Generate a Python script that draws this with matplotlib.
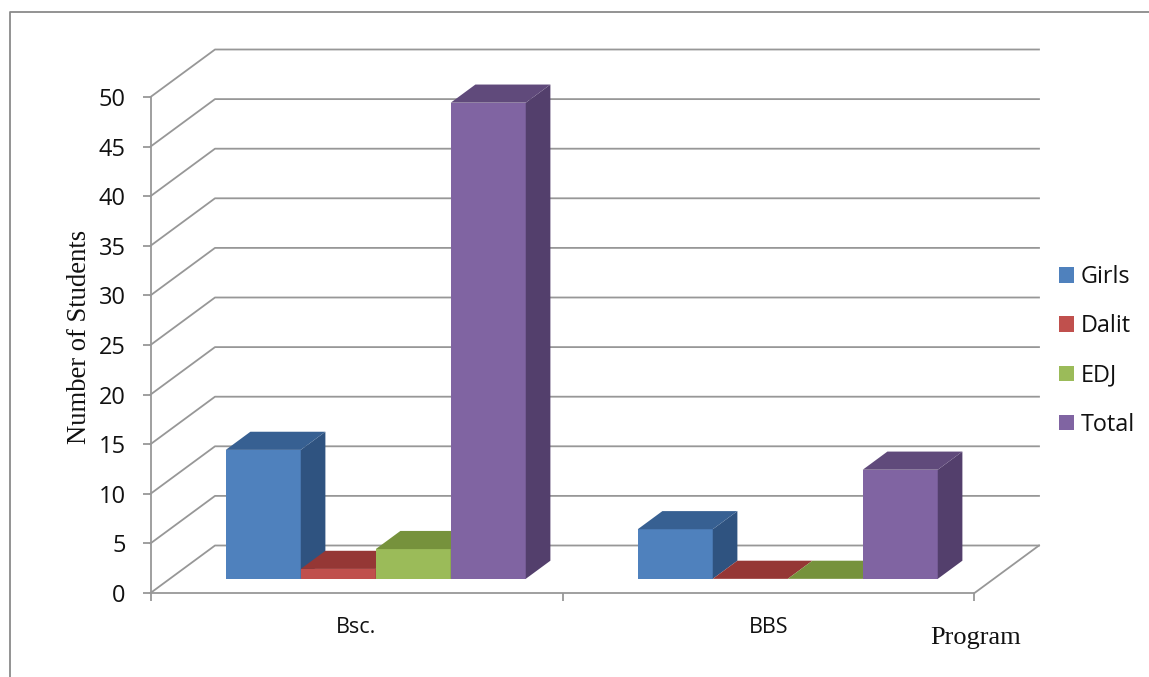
import numpy as np
import matplotlib
matplotlib.use('Agg')
import matplotlib.pyplot as plt
from matplotlib.lines import Line2D
from matplotlib.patches import Patch, Polygon

programs = ['Bsc.', 'BBS']
series = ['Girls', 'Dalit', 'EDJ', 'Total']
girls = [13, 5]
dalit = [1, 0]
edj = [3, 0]
total = [48, 11]
y_ticks = [0, 5, 10, 15, 20, 25, 30, 35, 40, 45, 50]

W, H = 1149, 677
GRID = '#979797'
TEXT = '#111111'
SANS = ['Open Sans', 'DejaVu Sans']
SERIF = ['Liberation Serif', 'DejaVu Serif']

# front, top and side colours of each series
front = ['#4F81BD', '#C0504D', '#9BBB59', '#8064A2']
top = ['#376092', '#953735', '#76923C', '#604A7B']
side = ['#2F5380', '#7F2F2D', '#657D33', '#533F6C']

# how far the back wall is shifted, in data units
depth_x = 64.5 / 412
depth_y = 47.5 / 9.92
bar_w = 75 / 412
bar_start = 0.136
d_front = 0.298  # bar depth range, 0 = front of floor, 1 = back wall
d_back = 0.68


def proj(x, v, d):
    return (x + d * depth_x, v + d * depth_y)


def draw_bar(ax, x, v, i):
    # front face, then the top, then the right side
    x2 = x + bar_w
    if v > 0:
        ax.add_patch(Polygon([proj(x, 0, d_front), proj(x2, 0, d_front),
                              proj(x2, v, d_front), proj(x, v, d_front)],
                             fc=front[i], ec='none', clip_on=False, zorder=3))
        ax.add_patch(Polygon([proj(x2, 0, d_front), proj(x2, 0, d_back),
                              proj(x2, v, d_back), proj(x2, v, d_front)],
                             fc=side[i], ec='none', clip_on=False, zorder=3))
    ax.add_patch(Polygon([proj(x, v, d_front), proj(x2, v, d_front),
                          proj(x2, v, d_back), proj(x, v, d_back)],
                         fc=top[i], ec='none', clip_on=False, zorder=3))


fig = plt.figure(figsize=(W / 100, H / 100), dpi=100, facecolor='white')
ax = fig.add_axes([150.5 / W, 1 - 593 / H, 824 / W, 496 / H])
ax.set_xlim(0, 2)
ax.set_ylim(0, 50)
ax.patch.set_visible(False)

for s in ['top', 'right']:
    ax.spines[s].set_visible(False)
for s in ['left', 'bottom']:
    ax.spines[s].set_color(GRID)
    ax.spines[s].set_linewidth(1.3)

# gridlines run along the left wall and then the back wall
for v in y_ticks:
    ax.plot([0, depth_x, 2 + depth_x], [v, v + depth_y, v + depth_y],
            color=GRID, lw=1.3, clip_on=False, zorder=1)
ax.plot([2, 2 + depth_x], [0, depth_y], color=GRID, lw=1.3, clip_on=False, zorder=1)

all_values = [girls, dalit, edj, total]
for c in range(len(programs)):
    for i, vals in enumerate(all_values):
        draw_bar(ax, c + bar_start + i * bar_w, vals[c], i)

ax.set_yticks(y_ticks)
ax.tick_params(axis='y', length=5.5, width=1.3, color=GRID, pad=12.5,
               labelsize=17, labelcolor=TEXT)
for lab in ax.get_yticklabels():
    lab.set_family(SANS)

ax.set_xticks([0, 1, 2])
ax.set_xticklabels([])
ax.set_xticks([0.5, 1.5], labels=programs, minor=True)
ax.tick_params(axis='x', which='major', length=6, width=1.3, color=GRID)
ax.tick_params(axis='x', which='minor', length=0, pad=17, labelsize=15.5, labelcolor=TEXT)
for lab in ax.get_xticklabels(minor=True):
    lab.set_family(SANS)

fig.text(79 / W, 1 - 337 / H, 'Number of Students', rotation=90, ha='center', va='center',
         fontsize=19.2, family=SERIF, color=TEXT)
fig.text(975.5 / W, 1 - 638 / H, 'Program', ha='center', va='center',
         fontsize=19, family=SERIF, color=TEXT)

handles = [Patch(fc=c, ec='none') for c in front]
leg = fig.legend(handles, series, loc='center left', bbox_to_anchor=(1038 / W, 1 - 351 / H),
                 frameon=False, prop={'family': SANS, 'size': 16.8},
                 handlelength=0.64, handleheight=0.64, handletextpad=0.3,
                 labelspacing=1.08, labelcolor=TEXT)

# thin frame around the chart area
fig.add_artist(Line2D([10 / W, 10 / W, 1], [0, 1 - 12 / H, 1 - 12 / H],
                      transform=fig.transFigure, color='#8A8A8A', lw=1.3))

fig.savefig('out.png', dpi=100)
